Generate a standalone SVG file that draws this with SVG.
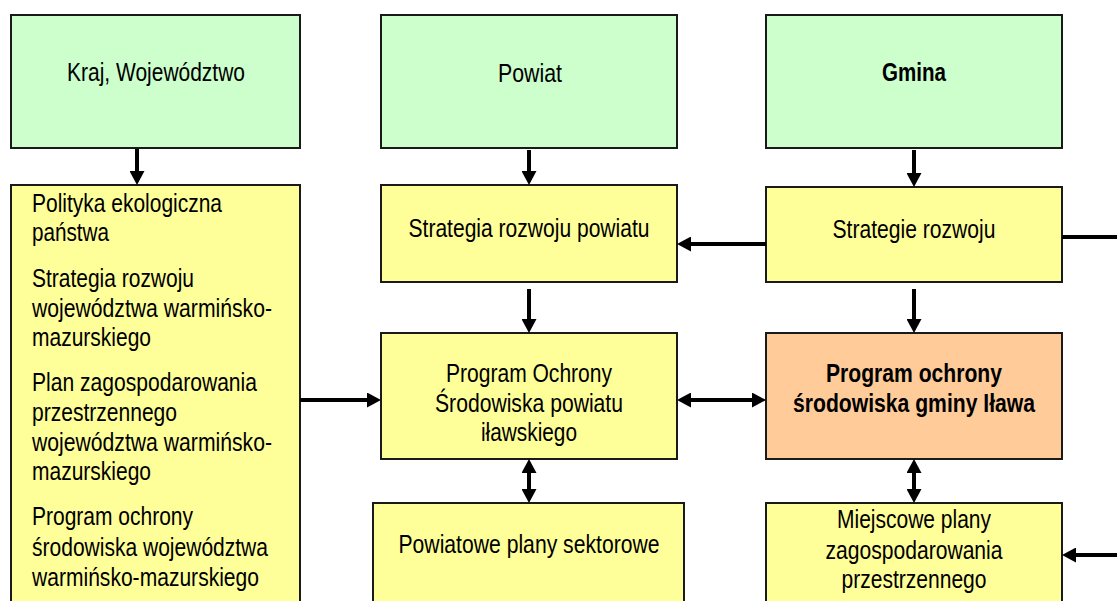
<svg xmlns="http://www.w3.org/2000/svg" width="1117" height="601" viewBox="0 0 1117 601">
<defs>
<style>
.box{stroke:#1a1a1a;stroke-width:2}
.g{fill:#CCFFCC}.y{fill:#FFFF99}.o{fill:#FFCC99}
text{font-family:'Liberation Sans Narrow','Arial Narrow','Liberation Sans',Arial,sans-serif;font-size:25px;fill:#000}
.c{text-anchor:middle}
.b{font-weight:bold}
.con line{stroke:#000;stroke-width:4}
</style>
<marker id="ah" viewBox="0 0 14 15" markerWidth="14" markerHeight="15" markerUnits="userSpaceOnUse" refX="6" refY="7.5" orient="auto-start-reverse">
<path d="M0,0 L14,7.5 L0,15 z" fill="#000"/>
</marker>
</defs>
<rect width="1117" height="601" fill="#fff"/>

<g id="kraj">
<rect class="box g" x="11" y="15" width="289" height="133"/>
<text x="156" y="81" class="c" textLength="178" lengthAdjust="spacingAndGlyphs">Kraj, Województwo</text>
</g>
<g id="powiat">
<rect class="box g" x="381" y="15" width="296" height="133"/>
<text x="530" y="82" class="c" textLength="64" lengthAdjust="spacingAndGlyphs">Powiat</text>
</g>
<g id="gmina">
<rect class="box g" x="766" y="15" width="296" height="133"/>
<text x="914" y="81" class="c b" textLength="64" lengthAdjust="spacingAndGlyphs">Gmina</text>
</g>

<g id="dokumenty-wojewodzkie">
<rect class="box y" x="11" y="185" width="289" height="430"/>
<text x="32" y="212" textLength="190" lengthAdjust="spacingAndGlyphs">Polityka ekologiczna</text>
<text x="32" y="241" textLength="77" lengthAdjust="spacingAndGlyphs">państwa</text>
<text x="32" y="287" textLength="162" lengthAdjust="spacingAndGlyphs">Strategia rozwoju</text>
<text x="32" y="317" textLength="240" lengthAdjust="spacingAndGlyphs">województwa warmińsko-</text>
<text x="32" y="346" textLength="119" lengthAdjust="spacingAndGlyphs">mazurskiego</text>
<text x="32" y="391" textLength="225" lengthAdjust="spacingAndGlyphs">Plan zagospodarowania</text>
<text x="32" y="421" textLength="145" lengthAdjust="spacingAndGlyphs">przestrzennego</text>
<text x="32" y="451" textLength="240" lengthAdjust="spacingAndGlyphs">województwa warmińsko-</text>
<text x="32" y="480" textLength="119" lengthAdjust="spacingAndGlyphs">mazurskiego</text>
<text x="32" y="525" textLength="161" lengthAdjust="spacingAndGlyphs">Program ochrony</text>
<text x="32" y="556" textLength="236" lengthAdjust="spacingAndGlyphs">środowiska województwa</text>
<text x="32" y="586" textLength="227" lengthAdjust="spacingAndGlyphs">warmińsko-mazurskiego</text>
</g>

<g id="strategia-powiatu">
<rect class="box y" x="381" y="185" width="296" height="97"/>
<text x="529" y="237" class="c" textLength="241" lengthAdjust="spacingAndGlyphs">Strategia rozwoju powiatu</text>
</g>
<g id="strategie-gminy">
<rect class="box y" x="766" y="187" width="296" height="95"/>
<text x="914" y="238" class="c" textLength="163" lengthAdjust="spacingAndGlyphs">Strategie rozwoju</text>
</g>

<g id="pos-powiatu">
<rect class="box y" x="381" y="333" width="296" height="126"/>
<text x="529" y="382" class="c" textLength="166" lengthAdjust="spacingAndGlyphs">Program Ochrony</text>
<text x="529" y="412" class="c" textLength="188" lengthAdjust="spacingAndGlyphs">Środowiska powiatu</text>
<text x="529" y="441" class="c" textLength="96" lengthAdjust="spacingAndGlyphs">iławskiego</text>
</g>
<g id="pos-gminy">
<rect class="box o" x="766" y="333" width="296" height="126"/>
<text x="914" y="382" class="c b" textLength="176" lengthAdjust="spacingAndGlyphs">Program ochrony</text>
<text x="914" y="412" class="c b" textLength="242" lengthAdjust="spacingAndGlyphs">środowiska gminy Iława</text>
</g>

<g id="plany-sektorowe">
<rect class="box y" x="373" y="503" width="311" height="110"/>
<text x="529" y="553" class="c" textLength="261" lengthAdjust="spacingAndGlyphs">Powiatowe plany sektorowe</text>
</g>
<g id="miejscowe-plany">
<rect class="box y" x="766" y="503" width="296" height="110"/>
<text x="914" y="528" class="c" textLength="154" lengthAdjust="spacingAndGlyphs">Miejscowe plany</text>
<text x="914" y="559" class="c" textLength="177" lengthAdjust="spacingAndGlyphs">zagospodarowania</text>
<text x="914" y="588" class="c" textLength="145" lengthAdjust="spacingAndGlyphs">przestrzennego</text>
</g>

<g id="connectors" class="con">
<line x1="137" y1="149" x2="137" y2="177" marker-end="url(#ah)"/>
<line x1="529" y1="150" x2="529" y2="177" marker-end="url(#ah)"/>
<line x1="914" y1="150" x2="914" y2="179" marker-end="url(#ah)"/>
<line x1="766" y1="244" x2="685" y2="244" marker-end="url(#ah)"/>
<line x1="1062" y1="237" x2="1117" y2="237"/>
<line x1="529" y1="289" x2="529" y2="325" marker-end="url(#ah)"/>
<line x1="914" y1="289" x2="914" y2="325" marker-end="url(#ah)"/>
<line x1="300" y1="400" x2="373" y2="400" marker-end="url(#ah)"/>
<line x1="685" y1="400" x2="758" y2="400" marker-start="url(#ah)" marker-end="url(#ah)"/>
<line x1="529" y1="467" x2="529" y2="495" marker-start="url(#ah)" marker-end="url(#ah)"/>
<line x1="914" y1="467" x2="914" y2="495" marker-start="url(#ah)" marker-end="url(#ah)"/>
<line x1="1117" y1="555" x2="1070" y2="555" marker-end="url(#ah)"/>
</g>
</svg>
